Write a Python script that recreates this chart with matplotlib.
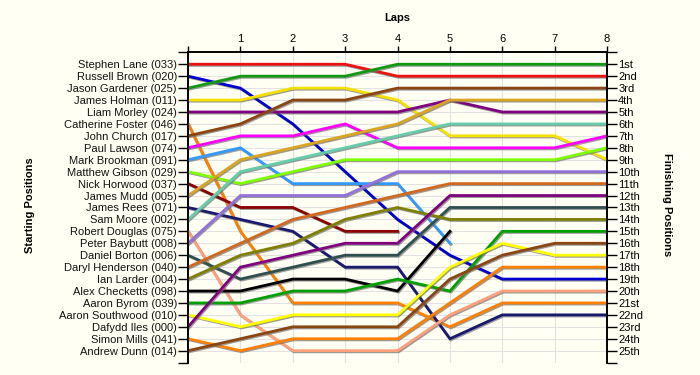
import matplotlib as mpl
mpl.use('Agg')
import matplotlib.pyplot as plt
import matplotlib.patheffects as pe
import numpy as np

nan = np.nan

# drivers in starting order
drivers = ["Stephen Lane (033)", "Russell Brown (020)", "Jason Gardener (025)",
           "James Holman (011)", "Liam Morley (024)", "Catherine Foster (046)",
           "John Church (017)", "Paul Lawson (074)", "Mark Brookman (091)",
           "Matthew Gibson (029)", "Nick Horwood (037)", "James Mudd (005)",
           "James Rees (071)", "Sam Moore (002)", "Robert Douglas (075)",
           "Peter Baybutt (008)", "Daniel Borton (006)", "Daryl Henderson (040)",
           "Ian Larder (004)", "Alex Checketts (098)", "Aaron Byrom (039)",
           "Aaron Southwood (010)", "Dafydd Iles (000)", "Simon Mills (041)",
           "Andrew Dunn (014)"]

# position after each lap (lap 0 = start), nan = retired
positions = [
    [1, 1, 1, 1, 2, 2, 2, 2, 2],
    [2, 3, 6, 10, 14, 17, 19, 19, 19],
    [3, 2, 2, 2, 1, 1, 1, 1, 1],
    [4, 4, 3, 3, 4, 7, 7, 7, 9],
    [5, 5, 5, 5, 5, 4, 5, 5, 5],
    [6, 15, 21, 21, 21, 23, 21, 21, 21],
    [7, 6, 4, 4, 3, 3, 3, 3, 3],
    [8, 7, 7, 6, 8, 8, 8, 8, 7],
    [9, 8, 11, 11, 11, 16, nan, nan, nan],
    [10, 11, 10, 9, 9, 9, 9, 9, 8],
    [11, 13, 13, 15, 15, nan, nan, nan, nan],
    [12, 9, 8, 7, 6, 4, 4, 4, 4],
    [13, 14, 15, 18, 18, 24, 22, 22, 22],
    [14, 10, 9, 8, 7, 6, 6, 6, 6],
    [15, 22, 25, 25, 25, 22, 20, 20, 20],
    [16, 12, 12, 12, 10, 10, 10, 10, 10],
    [17, 19, 18, 17, 17, 13, 13, 13, 13],
    [18, 16, 14, 13, 12, 11, 11, 11, 11],
    [19, 17, 16, 14, 13, 14, 14, 14, 14],
    [20, 20, 19, 19, 20, 15, nan, nan, nan],
    [21, 21, 20, 20, 19, 20, 15, 15, 15],
    [22, 23, 22, 22, 22, 18, 16, 17, 17],
    [23, 18, 17, 16, 16, 12, 12, 12, 12],
    [24, 25, 24, 24, 24, 21, 18, 18, 18],
    [25, 24, 23, 23, 23, 19, 17, 16, 16],
]

colors = ['#ee1111', '#0000cc', '#119911', '#f5e000', '#800080', '#ff7f00',
          '#8b4513', '#ff00ff', '#3399ff', '#7fff00', '#8b0000', '#daa520',
          '#191970', '#66cdaa', '#ffa07a', '#9370db', '#2f4f4f', '#d2691e',
          '#808000', '#000000', '#00a000', '#ffff00', '#800080', '#ff7f00',
          '#8b4513']

laps = np.arange(0, 9)
finish_labels = ["1st", "2nd", "3rd"] + ["%dth" % i for i in range(4, 21)] + \
                ["21st", "22nd", "23rd", "24th", "25th"]

bg = '#fffff4'
fig = plt.figure(figsize=(7, 3.75), dpi=100, facecolor=bg)
ax = fig.add_axes([0.2686, 0.033, 0.5986, 0.8275], facecolor=bg)

shadow = [pe.SimpleLineShadow(offset=(0.8, -0.8), shadow_color='#707070', alpha=0.7),
          pe.Normal()]
for pos, c in zip(positions, colors):
    ax.plot(laps, pos, color=c, linewidth=2, path_effects=shadow,
            solid_joinstyle='miter', zorder=3)

ax.set_xlim(0, 8)
ax.set_ylim(26, 0)

# grid
for x in laps:
    ax.axvline(x, color='#e2e2e2', linewidth=0.8, zorder=1)
for y in range(1, 27):
    ax.axhline(y, color='#e2e2e2', linewidth=0.8, zorder=1)

ax.xaxis.tick_top()
ax.set_xticks(laps)
ax.set_xticklabels([''] + [str(i) for i in laps[1:]], fontsize=8, family='Liberation Sans')
ax.tick_params(axis='x', length=4, width=1, pad=2)

yt = np.arange(0, 27)
ax.set_yticks(yt)
ax.set_yticklabels([''] + drivers + [''], fontsize=8, family='Liberation Sans', color='#111111')
ax.tick_params(axis='y', length=7, width=1, pad=1)

ax2 = ax.twinx()
ax2.set_ylim(26, 0)
ax2.set_yticks(yt)
ax2.set_yticklabels([''] + finish_labels + [''], fontsize=8, family='Liberation Sans')
ax2.tick_params(axis='y', length=7, width=1, pad=1)

for a in (ax, ax2):
    a.spines['bottom'].set_visible(False)
    for s in ('left', 'right', 'top'):
        a.spines[s].set_linewidth(1.2)

fig.text(397 / 700, 1 - 18 / 375, "Laps", ha='center', va='center',
         fontsize=8, fontweight='bold', family='Liberation Sans')
fig.text(30 / 700, 1 - 205 / 375, "Starting Positions", ha='center', va='center',
         rotation=90, fontsize=8, fontweight='bold', family='Liberation Sans')
fig.text(667 / 700, 1 - 205 / 375, "Finishing Positions", ha='center', va='center',
         rotation=-90, fontsize=8, fontweight='bold', family='Liberation Sans')

plt.savefig('out.png', dpi=100, facecolor=bg)
